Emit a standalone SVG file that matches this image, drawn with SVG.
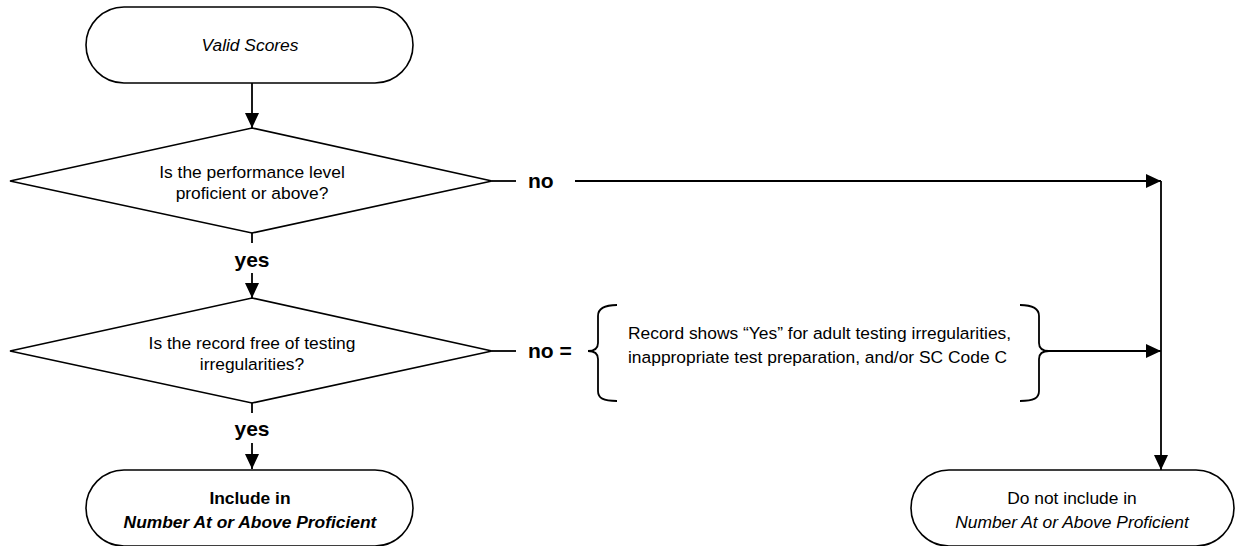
<svg xmlns="http://www.w3.org/2000/svg" width="1236" height="546" viewBox="0 0 1236 546">
<defs>
<marker id="ah" markerUnits="userSpaceOnUse" markerWidth="16" markerHeight="14" refX="15" refY="7" orient="auto">
<path d="M0,0 L15,7 L0,14 Z" fill="#000"/>
</marker>
<style>
.shape{fill:#fff;stroke:#000;stroke-width:1.6}
.conn{fill:none;stroke:#000;stroke-width:1.8}
.t{font-family:"Liberation Sans",Arial,sans-serif;font-size:17.4px;fill:#000}
.c{text-anchor:middle}
.b{font-weight:bold}
.i{font-style:italic}
.lbl{font-family:"Liberation Sans",Arial,sans-serif;font-size:21px;font-weight:bold;fill:#000}
</style>
</defs>
<g id="connectors">
<line class="conn" x1="252" y1="83" x2="252" y2="128" marker-end="url(#ah)"/>
<line class="conn" x1="252" y1="233" x2="252" y2="243"/>
<line class="conn" x1="252" y1="273" x2="252" y2="298" marker-end="url(#ah)"/>
<line class="conn" x1="252" y1="403" x2="252" y2="413"/>
<line class="conn" x1="252" y1="443" x2="252" y2="469" marker-end="url(#ah)"/>
<line class="conn" x1="492" y1="181" x2="516" y2="181"/>
<line class="conn" x1="575" y1="181" x2="1161" y2="181" marker-end="url(#ah)"/>
<line class="conn" x1="492" y1="351" x2="516" y2="351"/>
<line class="conn" x1="1045" y1="351" x2="1161" y2="351" marker-end="url(#ah)"/>
<line class="conn" x1="1161" y1="181" x2="1161" y2="470" marker-end="url(#ah)"/>
<text class="lbl" x="252" y="267" text-anchor="middle">yes</text>
<text class="lbl" x="252" y="436" text-anchor="middle">yes</text>
<text class="lbl" x="528" y="188">no</text>
<text class="lbl" x="528" y="358">no =</text>
</g>
<g id="start">
<rect class="shape" x="86" y="7" width="327" height="76" rx="38" ry="38"/>
<text class="t c i" x="250" y="51">Valid Scores</text>
</g>
<g id="decision1">
<polygon class="shape" points="252,128 492,181 252,233 10,181"/>
<text class="t c" x="252" y="178">Is the performance level</text>
<text class="t c" x="252" y="199">proficient or above?</text>
</g>
<g id="decision2">
<polygon class="shape" points="252,298 492,351 252,403 10,351"/>
<text class="t c" x="252" y="349">Is the record free of testing</text>
<text class="t c" x="252" y="370">irregularities?</text>
</g>
<g id="condition">
<path class="conn" d="M617,305 C603,305 598,309 598,316 L598,343 C598,348 595,351 588,351 C595,351 598,354 598,359 L598,391 C598,398 603,401 617,401"/>
<path class="conn" d="M1020,305 C1034,305 1039,309 1039,316 L1039,343 C1039,348 1042,351 1049,351 C1042,351 1039,354 1039,359 L1039,391 C1039,398 1034,401 1020,401"/>
<text class="t" x="628" y="339">Record shows “Yes” for adult testing irregularities,</text>
<text class="t" x="628" y="363">inappropriate test preparation, and/or SC Code C</text>
</g>
<g id="include">
<rect class="shape" x="86" y="470" width="327" height="76" rx="38" ry="38"/>
<text class="t c b" x="250" y="504">Include in</text>
<text class="t c b i" x="250" y="528">Number At or Above Proficient</text>
</g>
<g id="exclude">
<rect class="shape" x="911" y="470" width="323" height="76" rx="38" ry="38"/>
<text class="t c" x="1072" y="504">Do not include in</text>
<text class="t c i" x="1072" y="528">Number At or Above Proficient</text>
</g>
</svg>
